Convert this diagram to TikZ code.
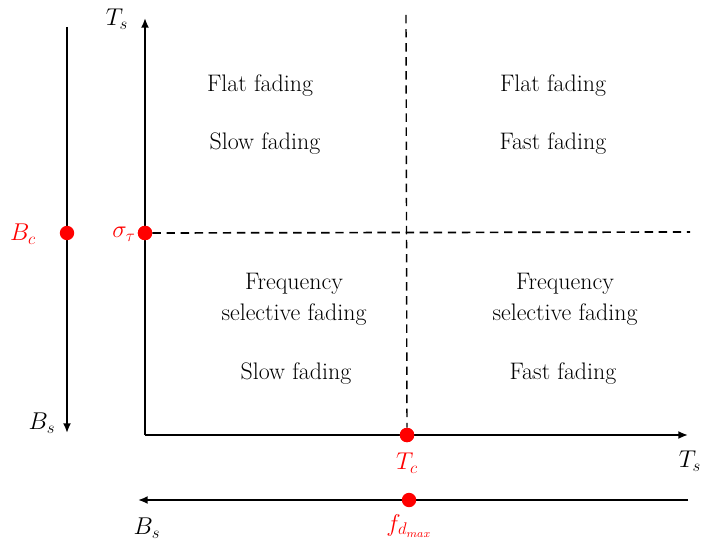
\documentclass[tikz,border=0pt]{standalone}
\usepackage{amsmath,amssymb}
\usepackage{xcolor}
\usepackage{tikz}
\usetikzlibrary{positioning,arrows.meta}
\definecolor{dotred}{HTML}{FF0000}
\tikzset{
  axisarr/.style={line width=1.4pt, -{Latex[length=2.4mm,width=2.0mm]}},
  divline/.style={line width=1.2pt, dash pattern=on 6pt off 4pt},
  reddot/.style={circle, fill=dotred, inner sep=0pt, minimum size=0.36cm},
  regiontext/.style={align=center, font=\fontsize{17}{22}\selectfont},
  axislabel/.style={font=\fontsize{17}{20}\selectfont},
  redlabel/.style={axislabel, text=dotred}
}

\begin{document}
\begin{tikzpicture}[x=0.025cm, y=-0.025cm]
\useasboundingbox (0,0) rectangle (703,544);
% axes
\coordinate (origin) at (145,435);
\coordinate (ytop) at (145,18);
\coordinate (xend) at (688,435);
\draw[axisarr] (origin) -- (ytop);
\draw[axisarr] (origin) -- (xend);
% coherence bandwidth axis
\coordinate (bctop) at (67,27);
\coordinate (bcbot) at (67,433);
\draw[axisarr] (bctop) -- (bcbot);
% doppler axis
\coordinate (fright) at (688,500);
\coordinate (fleft) at (138,500);
\draw[axisarr] (fright) -- (fleft);
% points
\node[reddot] (bc) at (67,233) {};
\node[reddot] (sigma) at (145,233) {};
\node[reddot] (tc) at (407,435) {};
\node[reddot] (fd) at (409,500) {};
% dividing lines
\coordinate (hdashend) at (690,232);
\coordinate (vdashtop) at (406,15);
\draw[divline] (sigma) -- (hdashend);
\draw[divline, line width=1pt] (vdashtop) -- (tc);
\node[reddot] at (sigma) {};
\node[reddot] at (tc) {};
% labels
\node[axislabel] (tsy) at (117,19) {$T_s$};
\node[axislabel] (tsx) at (690,461) {$T_s$};
\node[axislabel] (bsy) at (42,423) {$B_s$};
\node[axislabel] (bsx) at (147,528) {$B_s$};
\node[redlabel] (bclab) at (23,234) {$B_c$};
\node[redlabel] (sigmalab) at (124,234) {$\sigma_\tau$};
\node[redlabel] (tclab) at (407,463) {$T_c$};
\node[redlabel] (fdlab) at (409,526) {$f_{d_{max}}$};
% regions
\node[regiontext] (r1a) at (260,86) {Flat fading};
\node[regiontext] (r1b) at (265,144) {Slow fading};
\node[regiontext] (r2a) at (553,86) {Flat fading};
\node[regiontext] (r2b) at (553,144) {Fast fading};
\node[regiontext] (r3a) at (294,299) {Frequency\\selective fading};
\node[regiontext] (r3b) at (296,374) {Slow fading};
\node[regiontext] (r4a) at (565,299) {Frequency\\selective fading};
\node[regiontext] (r4b) at (563,374) {Fast fading};
\end{tikzpicture}
\end{document}
